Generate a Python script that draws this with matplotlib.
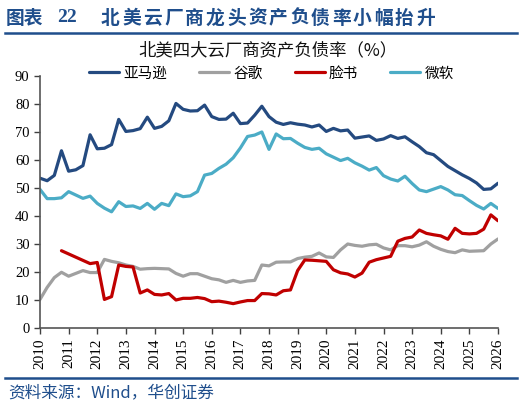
import numpy as np
import matplotlib
matplotlib.use("Agg")
import matplotlib.pyplot as plt

plt.rcParams['font.family'] = ['Noto Sans CJK SC', 'DejaVu Sans']

# quarterly points, 2010.00 .. 2026.00
quarters = 2010 + 0.25 * np.arange(65)

amazon = [53.5, 52.6, 54.5, 63.3, 56.0, 56.5, 58.0, 69.0,
          64.0, 64.2, 65.5, 74.5, 70.2, 70.5, 71.2, 75.3,
          71.3, 72.0, 74.0, 80.2, 78.1, 77.5, 77.6, 79.6,
          75.5, 74.5, 74.6, 76.7, 73.0, 73.2, 76.0, 79.2,
          75.5, 73.5, 72.7, 73.3, 72.8, 72.5, 71.8, 72.5,
          70.2, 71.3, 70.4, 70.7, 67.8, 68.2, 68.6, 67.0,
          67.5, 68.7, 67.7, 68.3, 66.5, 64.8, 62.6, 61.9,
          59.8, 57.7, 56.2, 54.7, 53.4, 51.8, 49.5, 49.7, 51.7]

google = [10.2, 14.5, 18.0, 19.9, 18.5, 19.5, 20.5, 19.8,
          19.8, 24.5, 23.8, 23.3, 22.5, 22.0, 21.0, 21.2,
          21.3, 21.2, 21.1, 19.5, 18.5, 19.4, 19.4, 18.5,
          17.6, 17.2, 16.3, 17.0, 16.3, 16.8, 17.0, 22.5,
          22.2, 23.5, 23.6, 23.6, 24.8, 25.3, 25.6, 26.8,
          25.4, 25.2, 27.9, 30.0, 29.5, 29.2, 29.7, 29.9,
          28.6, 27.9, 29.4, 29.4, 29.0, 29.6, 30.8, 29.2,
          28.1, 27.3, 26.9, 27.9, 27.4, 27.5, 27.6, 30.0, 31.8]

nan = np.nan
facebook = [nan, nan, nan, 27.6, nan, nan, nan, 23.0,
            23.4, 10.2, 11.2, 22.5, 22.0, 21.8, 12.5, 13.6,
            12.0, 11.8, 12.3, 10.0, 10.6, 10.6, 10.9, 10.5,
            9.4, 9.6, 9.2, 8.7, 9.3, 9.8, 9.8, 12.3,
            12.2, 11.8, 13.3, 13.6, 20.5, 24.3, 24.2, 24.0,
            23.8, 20.8, 19.7, 19.3, 18.2, 19.6, 23.5, 24.4,
            25.0, 25.6, 31.0, 32.0, 32.5, 35.0, 33.8, 33.3,
            32.9, 31.7, 35.6, 33.8, 33.6, 33.8, 35.3, 40.4, 38.3]

microsoft = [49.5, 46.2, 46.2, 46.5, 48.7, 47.5, 46.3, 47.1,
             44.5, 42.8, 41.5, 45.1, 43.4, 43.6, 42.7, 44.5,
             42.4, 44.5, 43.7, 47.9, 46.9, 47.2, 48.7, 54.6,
             55.2, 57.0, 58.5, 60.8, 64.3, 68.4, 68.9, 70.0,
             63.8, 69.3, 67.6, 67.7, 66.0, 64.5, 63.8, 64.2,
             62.2, 61.0, 59.8, 60.6, 59.0, 57.8, 56.4, 57.3,
             54.4, 53.2, 52.5, 54.2, 51.6, 49.3, 48.7, 49.6,
             50.5, 49.3, 47.6, 47.3, 45.5, 43.8, 42.5, 44.5, 42.7]

series = [("亚马逊", amazon, "#244A80"),
          ("谷歌", google, "#A0A0A0"),
          ("脸书", facebook, "#C00000"),
          ("微软", microsoft, "#4BACC6")]

year_ticks = list(range(2010, 2027))
y_ticks = list(range(0, 100, 10))

navy = "#1F4E8C"
W, H = 524, 409

fig = plt.figure(figsize=(5.24, 4.09), dpi=100)
ax = fig.add_axes([40 / W, 1 - 328 / H, 458 / W, 252 / H])

for name, vals, col in series:
    v = np.array(vals, dtype=float)
    ok = ~np.isnan(v)
    ax.plot(quarters[ok], v[ok], color=col, lw=2.3, label=name,
            solid_joinstyle="round", solid_capstyle="round")

ax.set_xlim(2010, 2026)
ax.set_ylim(0, 90)
ax.set_xticks(year_ticks)
ax.set_xticklabels([str(y) for y in year_ticks], rotation=90,
                   family="Liberation Serif", fontsize=11)
ax.set_yticks(y_ticks)
ax.set_yticklabels([str(y) for y in y_ticks], family="Liberation Serif",
                   fontsize=10.5)
ax.tick_params(direction="out", length=4.5, width=1, color="#404040", pad=3)
for s in ["top", "right"]:
    ax.spines[s].set_visible(False)
for s in ["left", "bottom"]:
    ax.spines[s].set_color("#555555")
    ax.spines[s].set_linewidth(1.2)

ax.legend(ncol=4, frameon=False, loc="center",
          bbox_to_anchor=(0.505, 1.01), fontsize=10.5, handlelength=2.05,
          columnspacing=2.2, handletextpad=0.3)

# header: characters spaced out like the original
fig.text(6 / W, 1 - 18 / H, "图表", fontsize=13.5, fontweight="bold",
         color=navy, va="center")
fig.text(57 / W, 1 - 18 / H, "22", fontsize=14, fontweight="bold",
         color=navy, va="center", family="Liberation Serif")
header = "北美云厂商龙头资产负债率小幅抬升"
for i, ch in enumerate(header):
    fig.text((101 + i * 21.0) / W, 1 - 18 / H, ch, fontsize=13.5,
             fontweight="bold", color=navy, va="center")
fig.add_artist(plt.Line2D([5 / W, 517 / W], [1 - 33 / H, 1 - 33 / H],
                          color=navy, lw=1.8))

fig.text(268 / W, 1 - 50 / H, "北美四大云厂商资产负债率（%）", fontsize=12.5,
         ha="center", va="center", color="#111111")

fig.add_artist(plt.Line2D([5 / W, 517 / W], [1 - 378 / H, 1 - 378 / H],
                          color=navy, lw=1.8))
fig.text(8 / W, 1 - 393 / H, "资料来源：Wind，华创证券", fontsize=12,
         color=navy, va="center", style="italic")

fig.savefig("out.png", dpi=100)
